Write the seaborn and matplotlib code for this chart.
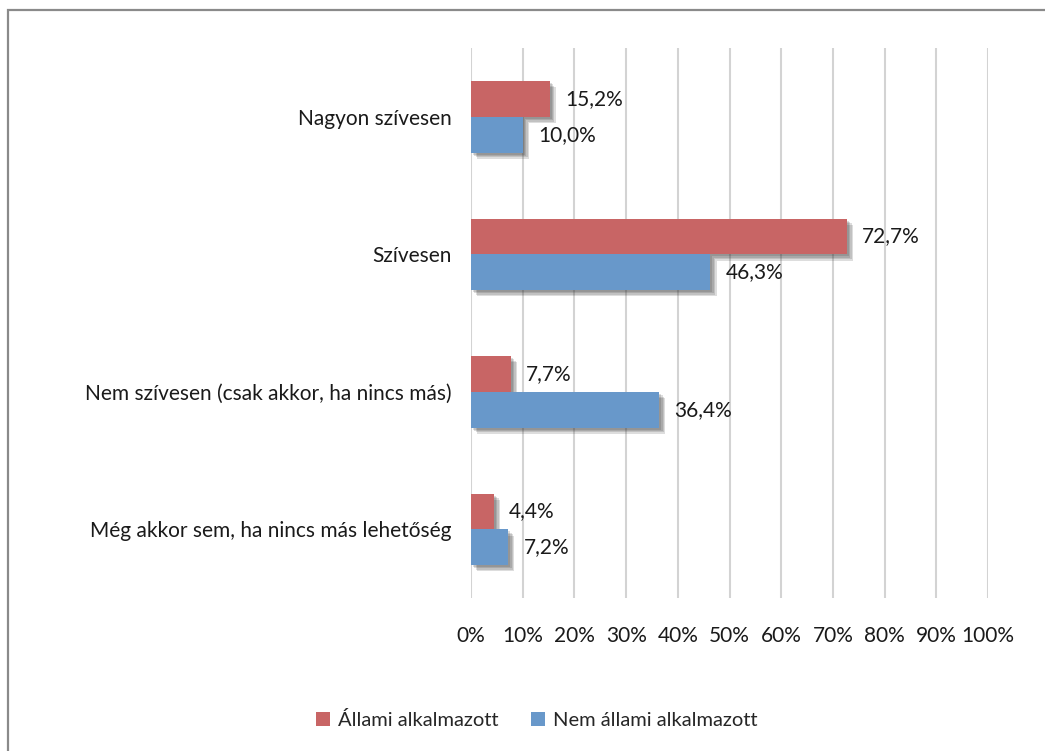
import matplotlib
matplotlib.use("Agg")
import matplotlib.pyplot as plt
import matplotlib.patheffects as pe
from matplotlib.patches import Rectangle
from matplotlib.ticker import MultipleLocator, FuncFormatter
import seaborn as sns
import pandas as pd

categories = ["Nagyon szívesen", "Szívesen", "Nem szívesen (csak akkor, ha nincs más)",
              "Még akkor sem, ha nincs más lehetőség"]
series_names = ["Állami alkalmazott", "Nem állami alkalmazott"]
allami = [15.2, 72.7, 7.7, 4.4]
nem_allami = [10.0, 46.3, 36.4, 7.2]
colors = ["#C86565", "#6898CA"]

df = pd.DataFrame({
    "cat": categories * 2,
    "series": [series_names[0]] * 4 + [series_names[1]] * 4,
    "value": allami + nem_allami,
})

sns.set_theme(style="white")
plt.rcParams["font.family"] = ["Lato", "DejaVu Sans"]

fig = plt.figure(figsize=(10.45, 7.51), dpi=100)
ax = fig.add_axes([471 / 1045, 1 - 598 / 751, (988 - 471) / 1045, (598 - 48) / 751])

# outer frame (only top/left visible in the reference)
fig.patches.append(Rectangle((8 / 1045, -0.1), 1.2, (751 - 10) / 751 + 0.1,
                             transform=fig.transFigure, fill=False,
                             edgecolor="#8A8A8A", linewidth=1.6, zorder=0))

sns.barplot(data=df, y="cat", x="value", hue="series", orient="h",
            palette=colors, width=0.52, ax=ax, saturation=1, legend=True,
            edgecolor="none")

# soft drop shadow, built from a few faint offset copies
shadow = [pe.SimplePatchShadow(offset=(d, -d), shadow_rgbFace="#303030", alpha=0.16)
          for d in (4.5, 3.5, 2.5, 1.5)]

for c in ax.containers:
    for bar in c:
        bar.set_path_effects(shadow + [pe.Normal()])
        bar.set_zorder(3)
    labels = [("%.1f%%" % b.get_width()).replace(".", ",") for b in c]
    ax.bar_label(c, labels=labels, padding=11, fontsize=15, color="#1a1a1a")

ax.set_xlim(0, 100)
ax.set_ylim(3.5, -0.5)
ax.xaxis.set_major_locator(MultipleLocator(10))
ax.xaxis.set_major_formatter(FuncFormatter(lambda v, p: "%d%%" % v))
ax.grid(axis="x", color="#D3D3D3", linewidth=1.5, zorder=0)
ax.set_axisbelow(True)
for s in ax.spines.values():
    s.set_visible(False)
ax.tick_params(axis="x", length=0, pad=20, labelsize=15, labelcolor="#1a1a1a")
ax.tick_params(axis="y", length=0, pad=14, labelsize=15, labelcolor="#1a1a1a")
ax.set_xlabel("")
ax.set_ylabel("")

handles, lbls = ax.get_legend_handles_labels()
ax.legend_.remove()
fig.legend(handles, lbls, loc="center", bbox_to_anchor=(537 / 1045, 1 - 720 / 751),
           ncol=2, frameon=False, fontsize=14.5, handlelength=0.7, handleheight=0.7,
           handletextpad=0.4, columnspacing=1.6)

fig.savefig("out.png", dpi=100)
